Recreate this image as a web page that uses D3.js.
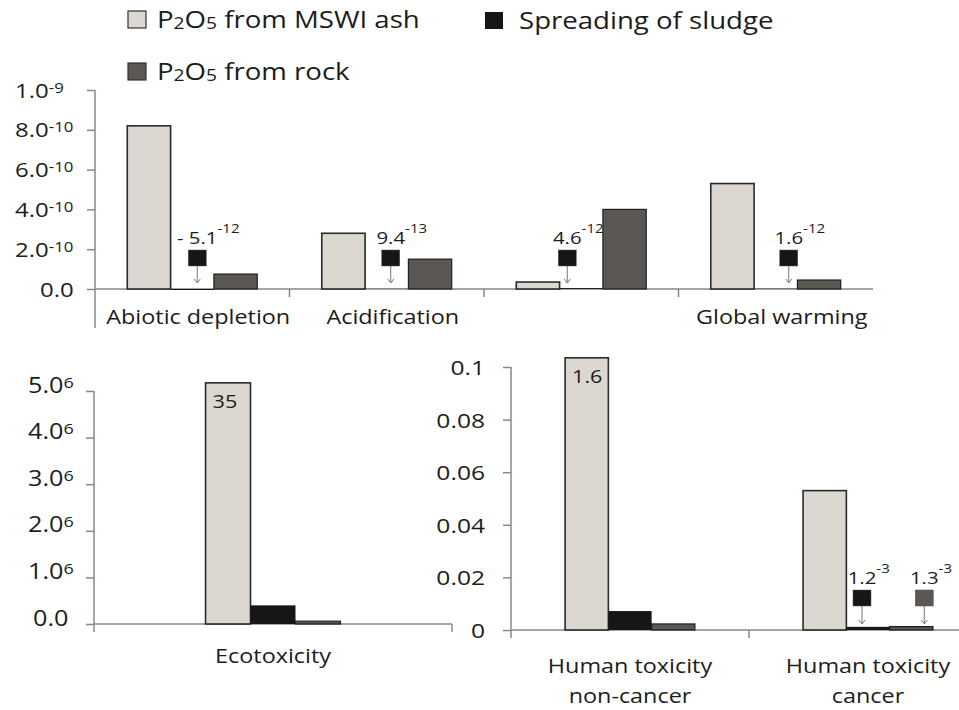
<!DOCTYPE html>
<meta charset="utf-8">
<head>
  <title>P2O5 impacts</title>
  <script src="https://d3js.org/d3.v7.min.js"></script>
  <style>
    body {
      margin: 0;
      background-color: white;
    }
    text {
      font-family: 'Open Sans', sans-serif;
    }
  </style>
</head>
<body>
<script>
  // series (legend order is set further down)
  var series = ["MSWI ash", "Spreading of sludge", "rock"];

  // upper panel
  var topCats = ["Abiotic depletion", "Acidification", "", "Global warming"];
  var topMswi = [8.2e-10, 2.8e-10, 3.5e-11, 5.3e-10];
  var topSludge = [-5.1e-12, 9.4e-13, 4.6e-12, 1.6e-12];
  var topRock = [7.5e-11, 1.5e-10, 4.0e-10, 4.5e-11];
  var topTicks = [0, 2e-10, 4e-10, 6e-10, 8e-10, 1e-9];
  var topTickLabels = [["0.0", ""], ["2.0", "-10"], ["4.0", "-10"], ["6.0", "-10"], ["8.0", "-10"], ["1.0", "-9"]];

  // ecotoxicity panel
  var ecoCats = ["Ecotoxicity"];
  var ecoMswi = [35];
  var ecoSludge = [0.4];
  var ecoRock = [0.06];
  var ecoTicks = [0, 1, 2, 3, 4, 5];
  var ecoTickLabels = [["0.0", ""], ["1.0", "6"], ["2.0", "6"], ["3.0", "6"], ["4.0", "6"], ["5.0", "6"]];

  // human toxicity panel
  var humCats = [["Human toxicity", "non-cancer"], ["Human toxicity", "cancer"]];
  var humMswi = [1.6, 0.053];
  var humSludge = [0.0072, 0.0012];
  var humRock = [0.0023, 0.0013];
  var humTicks = [0, 0.02, 0.04, 0.06, 0.08, 0.1];
  var humTickLabels = [["0", ""], ["0.02", ""], ["0.04", ""], ["0.06", ""], ["0.08", ""], ["0.1", ""]];

  var fills = ["#dcd7d1", "#161616", "#5b5752"];
  var strokes = ["#2a2a2a", "none", "#1e1e1e"];
  var axisColor = "#8e8781";
  var ink = "#1c1c1c";
  var sx = 1.2; // the lettering in the original is stretched sideways

  var svg = d3.select("body").append("svg")
    .attr("width", 959)
    .attr("height", 710);

  function stretch(x, y) {
    return "translate(" + x + "," + y + ") scale(" + sx + ",1)";
  }

  function drawPanel(p) {
    var data = [p.mswi, p.sludge, p.rock];
    var x0 = d3.scaleBand().domain(d3.range(p.cats.length)).range(p.xRange);
    var x1 = d3.scaleBand().domain(d3.range(3)).range([0, x0.bandwidth()]).paddingOuter(p.outer);
    var y = d3.scaleLinear().domain([0, p.max]).range(p.yRange);
    var base = y(0);
    var left = p.xRange[0];
    var g = svg.append("g");

    // y axis
    var ax = g.append("g")
      .attr("transform", "translate(" + left + ",0)")
      .call(d3.axisLeft(y).tickValues(p.ticks).tickSize(8).tickSizeOuter(0));
    ax.select(".domain").remove();
    ax.selectAll(".tick line").attr("stroke", axisColor).attr("stroke-width", 1.5);
    ax.selectAll(".tick text").each(function(d, i) {
      var t = d3.select(this).text(null)
        .attr("x", null).attr("dy", null)
        .attr("fill", ink)
        .attr("font-size", p.tickFont)
        .attr("text-anchor", p.tickAnchor)
        .attr("transform", stretch((d === 0 ? p.zeroX : p.tickX) - left, p.tickDy));
      t.append("tspan").text(p.tickLabels[i][0]);
      if (p.tickLabels[i][1]) {
        t.append("tspan").attr("font-size", p.supFont).attr("dy", p.supDy).text(p.tickLabels[i][1]);
      }
    });
    g.append("line")
      .attr("x1", left).attr("x2", left)
      .attr("y1", y(p.max)).attr("y2", base + p.extend)
      .attr("stroke", axisColor).attr("stroke-width", 1.5);

    // category axis
    g.append("line")
      .attr("x1", left).attr("x2", p.xRange[1])
      .attr("y1", base).attr("y2", base)
      .attr("stroke", axisColor).attr("stroke-width", 1.5);
    var seps = d3.range(1, p.cats.length + (p.endTick ? 1 : 0));
    g.selectAll(".sep").data(seps).enter().append("line")
      .attr("x1", function(k) { return left + x0.step() * k; })
      .attr("x2", function(k) { return left + x0.step() * k; })
      .attr("y1", base).attr("y2", base + 8)
      .attr("stroke", axisColor).attr("stroke-width", 1.5);

    // notes for the values too small to see (drawn under the bars)
    p.notes.forEach(function(n) {
      var v = data[n.s][n.c];
      var cx = x0(n.c) + x1(n.s) + x1.bandwidth() / 2 + n.dx;
      var top = base - p.noteUp;
      var e = Math.floor(Math.log10(Math.abs(v)));
      var m = (Math.abs(v) / Math.pow(10, e)).toFixed(1);
      var t = g.append("text")
        .attr("fill", ink)
        .attr("font-size", 17);
      t.append("tspan").text((v < 0 ? "- " : "") + m);
      var w = t.node().getComputedTextLength() * sx;
      t.attr("transform", stretch(cx - w / 2, top - 6));
      t.append("tspan").attr("font-size", 12.5).attr("dy", -11).text(String(e));

      g.append("line")
        .attr("x1", cx).attr("x2", cx)
        .attr("y1", top + 16).attr("y2", base - 7)
        .attr("stroke", "#777").attr("stroke-width", 1);
      g.append("path")
        .attr("d", "M" + (cx - 3) + "," + (base - 10) + "L" + cx + "," + (base - 6) + "L" + (cx + 3) + "," + (base - 10))
        .attr("fill", "none").attr("stroke", "#777").attr("stroke-width", 1);
      g.append("rect")
        .attr("x", cx - 9).attr("y", top)
        .attr("width", 18).attr("height", 16)
        .attr("fill", fills[n.s]).attr("stroke", "#555").attr("stroke-width", 0.5);
    });

    // bars
    var cells = [];
    p.cats.forEach(function(c, i) {
      [0, 1, 2].forEach(function(s) { cells.push({c: i, s: s, v: data[s][i]}); });
    });
    var cap = p.max * 1.035;
    g.selectAll(".bar").data(cells).enter().append("rect")
      .attr("x", function(d) { return x0(d.c) + x1(d.s); })
      .attr("width", x1.bandwidth())
      .attr("y", function(d) { return Math.min(y(Math.min(d.v, cap)), base); })
      .attr("height", function(d) { return Math.abs(y(Math.min(d.v, cap)) - base); })
      .attr("fill", function(d) { return fills[d.s]; })
      .attr("stroke", function(d) { return strokes[d.s]; })
      .attr("stroke-width", function(d) { return d.s === 0 ? 1.6 : 1.2; });

    // bars cut at the top of the axis carry their value
    cells.filter(function(d) { return d.v > cap; }).forEach(function(d) {
      g.append("text")
        .attr("fill", ink)
        .attr("font-size", 18)
        .attr("transform", stretch(x0(d.c) + x1(d.s) + 7, y(cap) + 25))
        .text(d.v);
    });

    // category names
    p.cats.forEach(function(c, i) {
      var lines = [].concat(c);
      lines.forEach(function(line, j) {
        g.append("text")
          .attr("fill", ink)
          .attr("font-size", 19.5)
          .attr("text-anchor", "middle")
          .attr("transform", stretch(x0(i) + x0.bandwidth() / 2 + p.labelDx, p.labelY + j * 30))
          .text(line);
      });
    });
  }

  drawPanel({
    cats: topCats, mswi: topMswi, sludge: topSludge, rock: topRock,
    max: 1e-9, ticks: topTicks, tickLabels: topTickLabels,
    xRange: [95, 873], yRange: [289, 90], outer: 0.745, extend: 39,
    tickFont: 20, tickAnchor: "start", tickX: 15, zeroX: 40, tickDy: 7, supFont: 14, supDy: -5,
    labelY: 324, labelDx: 6, endTick: false, noteUp: 39,
    notes: [{s: 1, c: 0, dx: 5}, {s: 1, c: 1, dx: 4}, {s: 1, c: 2, dx: -14}, {s: 1, c: 3, dx: 13}]
  });

  drawPanel({
    cats: ecoCats, mswi: ecoMswi, sludge: ecoSludge, rock: ecoRock,
    max: 5, ticks: ecoTicks, tickLabels: ecoTickLabels,
    xRange: [94, 452], yRange: [624, 391], outer: 2.48, extend: 8,
    tickFont: 21, tickAnchor: "start", tickX: 28, zeroX: 33, tickDy: 1, supFont: 15, supDy: -5,
    labelY: 663, labelDx: 0, endTick: true, noteUp: 40,
    notes: []
  });

  drawPanel({
    cats: humCats, mswi: humMswi, sludge: humSludge, rock: humRock,
    max: 0.1, ticks: humTicks, tickLabels: humTickLabels,
    xRange: [511, 987], yRange: [630, 367], outer: 1.25, extend: 8,
    tickFont: 20.5, tickAnchor: "end", tickX: 485, zeroX: 485, tickDy: 7.5, supFont: 13, supDy: -5,
    labelY: 673, labelDx: 0, endTick: false, noteUp: 40,
    notes: [{s: 1, c: 1, dx: -6}, {s: 2, c: 1, dx: 13}]
  });

  // legend
  var legendItems = [
    {s: 0, sub: true, text: " from MSWI ash", x: 128, y: 11},
    {s: 2, sub: true, text: " from rock", x: 128, y: 63},
    {s: 1, sub: false, text: series[1], x: 485, y: 12}
  ];
  var legend = svg.append("g");
  legendItems.forEach(function(it) {
    legend.append("rect")
      .attr("x", it.x).attr("y", it.y)
      .attr("width", 18).attr("height", 17)
      .attr("fill", fills[it.s])
      .attr("stroke", it.s === 1 ? "none" : "#333").attr("stroke-width", 1.2);
    var t = legend.append("text")
      .attr("fill", ink)
      .attr("font-size", 23)
      .attr("transform", stretch(it.x + (it.sub ? 29 : 34), it.y + 17));
    if (it.sub) {
      t.append("tspan").text("P");
      t.append("tspan").attr("font-size", 16).attr("dy", 1).text("2");
      t.append("tspan").attr("dy", -1).text("O");
      t.append("tspan").attr("font-size", 16).attr("dy", 1).text("5");
      t.append("tspan").attr("dy", -1).text(it.text);
    } else {
      t.text(it.text);
    }
  });
</script>
</body>
</html>
